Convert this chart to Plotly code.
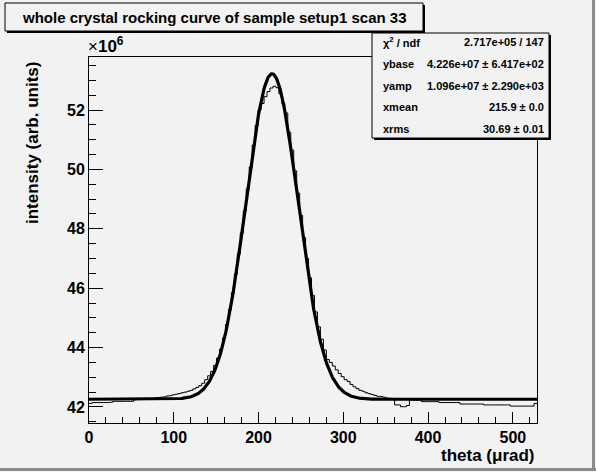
import numpy as np
import plotly.graph_objects as go

# ---------------- data ----------------
# histogram: 151 bins of equal width from 0 to 528.5 (theta, urad); contents in units of 1e6
x_min, x_max = 0.0, 528.5
counts_1e6 = [
    42.12, 42.15, 42.15, 42.15, 42.15, 42.15, 42.15, 42.16,
    42.19, 42.19, 42.19, 42.19, 42.19, 42.19, 42.19,
    42.24, 42.25, 42.25, 42.26, 42.26, 42.27, 42.28, 42.30,
    42.32, 42.33, 42.34, 42.37, 42.38, 42.41, 42.43, 42.45, 42.48, 42.50,
    42.53, 42.56, 42.61, 42.66, 42.72, 42.80, 42.92, 43.05, 43.20, 43.40,
    43.65, 43.95, 44.32, 44.78, 45.28, 45.85, 46.47, 47.15, 47.86, 48.60,
    49.35, 50.08, 50.82, 51.48, 52.00, 52.22, 52.45, 52.62, 52.74, 52.80,
    52.75, 52.55, 52.22, 51.90, 51.25, 50.65, 49.95, 49.20, 48.45, 47.70,
    47.00, 46.35, 45.75, 45.20, 44.70, 44.28, 43.92, 43.60, 43.50, 43.38,
    43.25, 43.13, 43.02, 42.92, 42.86, 42.76, 42.68, 42.62, 42.56, 42.53,
    42.48, 42.45, 42.42, 42.39, 42.36, 42.35, 42.33, 42.30, 42.29, 42.28,
    42.07, 42.07, 42.01, 42.01, 42.05, 42.24, 42.23, 42.23, 42.23,
    42.18, 42.18, 42.18, 42.18, 42.18, 42.18,
    42.15, 42.15, 42.15, 42.15, 42.15, 42.15, 42.15,
    42.10, 42.10, 42.10, 42.10, 42.10, 42.10, 42.10, 42.10,
    42.07, 42.07, 42.07, 42.07, 42.07, 42.07, 42.07, 42.07, 42.07,
    42.03, 42.03, 42.03, 42.03, 42.03, 42.03, 42.03, 42.03,
    42.12,
]

# fit parameters (gaussian on a flat base), as printed in the stats box
ybase = 4.226e7
yamp = 1.096e7
xmean = 215.9
xrms = 30.69

stat_labels = ["χ<sup>2</sup> / ndf", "ybase", "yamp", "xmean", "xrms"]
stat_values = ["2.717e+05 / 147", "4.226e+07 ± 6.417e+02", "1.096e+07 ± 2.290e+03",
               "215.9 ± 0.0", "30.69 ± 0.01"]

title_text = "whole crystal rocking curve of sample setup1 scan 33"
x_title = "theta (μrad)"
y_title = "intensity (arb. units)"

# ---------------- derived ----------------
nb = len(counts_1e6)
edges = np.linspace(x_min, x_max, nb + 1)
step_x = edges
step_y = counts_1e6 + [counts_1e6[-1]]

fx = np.linspace(x_min, x_max, 800)
fy = (ybase + yamp * np.exp(-0.5 * ((fx - xmean) / xrms) ** 2)) / 1e6

# ---------------- layout helpers (pixel -> paper) ----------------
W, H = 596, 472
L, R, T, B = 89, 537, 57, 423
def px(x):
    return (x - L) / (R - L)
def py(y):
    return (B - y) / (B - T)

BG = "#f2f2f2"
FONT = "Liberation Sans"

fig = go.Figure()
fig.add_trace(go.Scatter(x=step_x, y=step_y, mode="lines", line_shape="hv",
                         line=dict(color="black", width=1), hoverinfo="skip"))
fig.add_trace(go.Scatter(x=fx, y=fy, mode="lines",
                         line=dict(color="black", width=3.2), hoverinfo="skip"))

tickfont = dict(family=FONT, size=16, color="black", weight="bold")
fig.update_layout(
    width=W, height=H, autosize=False,
    margin=dict(l=L, r=W - R, t=T, b=H - B),
    paper_bgcolor=BG, plot_bgcolor=BG,
    showlegend=False,
    xaxis=dict(range=[x_min, x_max], showgrid=False, zeroline=False,
               showline=True, linecolor="black", linewidth=1, mirror=True,
               tickmode="linear", tick0=0, dtick=100,
               ticks="inside", ticklen=11, tickwidth=1, tickcolor="black",
               minor=dict(ticks="inside", ticklen=6, tick0=0, dtick=20,
                          tickcolor="black", showgrid=False),
               tickfont=tickfont),
    yaxis=dict(range=[41.461, 53.785], showgrid=False, zeroline=False,
               showline=True, linecolor="black", linewidth=1, mirror=True,
               tickmode="linear", tick0=0, dtick=2,
               ticks="inside", ticklen=14, tickwidth=1, tickcolor="black",
               minor=dict(ticks="inside", ticklen=7, tick0=0, dtick=0.5,
                          tickcolor="black", showgrid=False),
               tickfont=tickfont),
)

shapes = []
# canvas bevel (right and bottom dark edges)
shapes.append(dict(type="rect", xref="paper", yref="paper", x0=px(0), x1=px(W), y0=py(468), y1=py(H - 1),
                   fillcolor="#8c8c8c", line=dict(width=0), layer="above"))
shapes.append(dict(type="rect", xref="paper", yref="paper", x0=px(592), x1=px(W - 1), y0=py(H - 1), y1=py(0),
                   fillcolor="#8c8c8c", line=dict(width=0), layer="above"))

def box(x0, y0, x1, y1):
    # shadow
    shapes.append(dict(type="rect", xref="paper", yref="paper",
                       x0=px(x0 + 2), x1=px(x1 + 2), y0=py(y0 + 2), y1=py(y1 + 2),
                       fillcolor="black", line=dict(width=0), layer="above"))
    shapes.append(dict(type="rect", xref="paper", yref="paper",
                       x0=px(x0), x1=px(x1), y0=py(y0), y1=py(y1),
                       fillcolor=BG, line=dict(color="black", width=1), layer="above"))

box(5, 3, 423, 31)      # title box
box(372, 33, 549, 138)  # stats box
fig.update_layout(shapes=shapes)

ann = []
ann.append(dict(text=title_text, x=px(214), y=py(17), xref="paper", yref="paper",
                xanchor="center", yanchor="middle", showarrow=False,
                font=dict(family=FONT, size=15, color="black", weight="bold")))
ann.append(dict(text="×<b>10<sup>6</sup></b>", x=px(86), y=py(45), xref="paper", yref="paper",
                xanchor="left", yanchor="middle", showarrow=False,
                font=dict(family=FONT, size=17, color="black")))
ann.append(dict(text=x_title, x=px(537), y=py(455), xref="paper", yref="paper",
                xanchor="right", yanchor="middle", showarrow=False,
                font=dict(family=FONT, size=17, color="black", weight="bold")))
ann.append(dict(text=y_title, x=px(32), y=py(60), xref="paper", yref="paper",
                xanchor="center", yanchor="top", textangle=-90, showarrow=False,
                font=dict(family=FONT, size=17, color="black", weight="bold")))
row_y = [42, 64, 85.5, 107, 128.5]
for lab, val, yy in zip(stat_labels, stat_values, row_y):
    ann.append(dict(text=lab, x=px(381), y=py(yy), xref="paper", yref="paper",
                    xanchor="left", yanchor="middle", showarrow=False,
                    font=dict(family=FONT, size=11, color="black", weight="bold")))
    ann.append(dict(text=val, x=px(546), y=py(yy), xref="paper", yref="paper",
                    xanchor="right", yanchor="middle", showarrow=False,
                    font=dict(family=FONT, size=11, color="black", weight="bold")))
fig.update_layout(annotations=ann)

fig.write_html("out.html", config={"displayModeBar": False},
               post_script="document.body.style.margin='0';document.body.style.padding='0';")
